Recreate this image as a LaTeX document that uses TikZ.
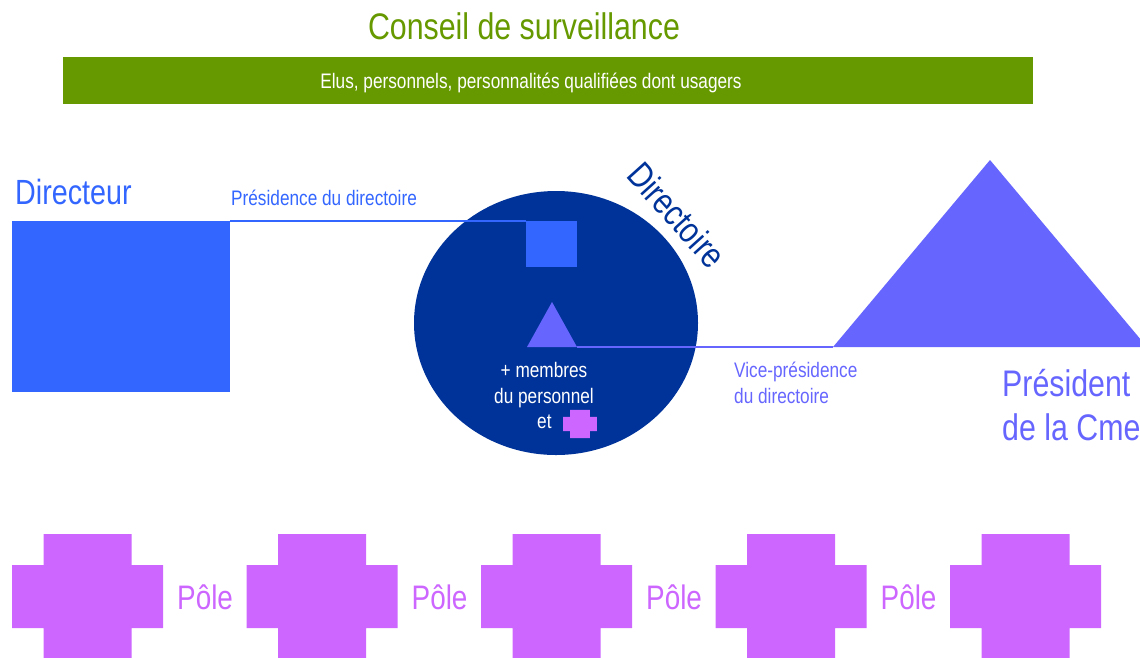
\documentclass[tikz,border=0pt]{standalone}
\usepackage{fontspec}
\setmainfont{Liberation Sans}[FakeStretch=0.82]
\usepackage{tikz}
\usetikzlibrary{shapes.geometric}

\definecolor{conseil}{HTML}{669900}
\definecolor{directeur}{HTML}{3366FF}
\definecolor{directoire}{HTML}{003399}
\definecolor{cme}{HTML}{6666FF}
\definecolor{pole}{HTML}{CC66FF}

\begin{document}
\begin{tikzpicture}[x=1pt,y=-1pt,
	box/.style={rectangle, inner sep=0pt, fill=#1},
	txt/.style={inner sep=0pt, text=#1, font=\fontsize{21}{26}\selectfont, align=left},
	big/.style={inner sep=0pt, text=#1, font=\fontsize{36}{44}\selectfont, align=left},
	pole cross/.pic={\fill[pole] (-75.5,-31.5) -| (-44,-62.5) -| (44,-31.5) -| (75.5,31.5) -| (44,62.5) -| (-44,31.5) -| (-75.5,-31.5) -- cycle;}]
\useasboundingbox (0,0) rectangle (1140,657);
\node [big=conseil, anchor=base, font=\fontsize{37}{44}\selectfont] (titre) at (524,39) {Conseil de surveillance};
\node [box=conseil, minimum width=970, minimum height=47, anchor=north west] (conseil) at (63,57) {};
\node [txt=white, anchor=base] (t conseil) at (531,88) {Elus, personnels, personnalités qualifiées dont usagers};
\node [big=directeur, anchor=base west, font=\fontsize{35}{42}\selectfont] (t directeur) at (15,204) {Directeur};
\node [box=directeur, minimum width=218, minimum height=171, anchor=north west] (directeur) at (12,221) {};
\node [txt=directeur, anchor=base west] (t presidence) at (231,205) {Présidence du directoire};
\node [ellipse, fill=directoire, minimum width=284, minimum height=264, inner sep=0pt] (directoire) at (556,323) {};
\node [big=directoire, rotate=-48] (t directoire) at (677,215) {Directoire};
\node [box=directeur, minimum width=51, minimum height=46, anchor=north west] (adjoint) at (526,221) {};
\draw [directeur, line width=1.5] (directeur.north east) -- (adjoint.north west);
\coordinate (vp left) at (527,347);
\coordinate (vp apex) at (552,302);
\coordinate (vp right) at (577,347);
\coordinate (cme left) at (833,347);
\coordinate (cme apex) at (990,160);
\coordinate (cme right) at (1147,347);
\fill [cme] (vp left) -- (vp apex) -- (vp right) -- cycle;
\fill [cme] (cme left) -- (cme apex) -- (cme right) -- cycle;
\draw [cme, line width=1.5] (vp right) -- (cme left);
\node [txt=white, align=center, anchor=base] (membres) at (544,403) {+ membres\\du personnel};
\node [txt=white, anchor=base west] (et) at (537,428) {et};
\pic [scale=0.225] at (580,424) {pole cross};
\node [txt=cme, anchor=base west] (t vice) at (734,403) {Vice-présidence\\du directoire};
\node [big=cme, anchor=base west, font=\fontsize{37}{44}\selectfont] (t cme) at (1002,440) {Président\\de la Cme};
\foreach \i in {0,...,4}
	\pic at ({87.5+234.5*\i},596.5) {pole cross};
\foreach \i in {0,...,3}
	\node [big=pole, anchor=base west, font=\fontsize{34}{40}\selectfont] (pole\i) at ({177+234.5*\i},609) {Pôle};
\end{tikzpicture}
\end{document}
